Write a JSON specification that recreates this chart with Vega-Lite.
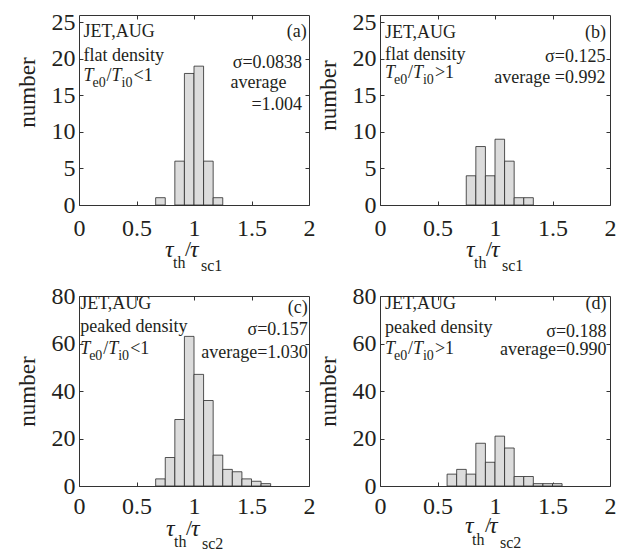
{
"$schema": "https://vega.github.io/schema/vega-lite/v6.json",
"background": "white",
"padding": {"left": 15, "top": 9, "right": 5, "bottom": 5},
"datasets": {
"one": [{}],
"a": [{"lo":0.6667,"hi":0.75,"n":1},{"lo":0.8333,"hi":0.9167,"n":6},{"lo":0.9167,"hi":1,"n":18},{"lo":1,"hi":1.0833,"n":19},{"lo":1.0833,"hi":1.1667,"n":6},{"lo":1.1667,"hi":1.25,"n":1}],
"b": [{"lo":0.75,"hi":0.8333,"n":4},{"lo":0.8333,"hi":0.9167,"n":8},{"lo":0.9167,"hi":1,"n":4},{"lo":1,"hi":1.0833,"n":9},{"lo":1.0833,"hi":1.1667,"n":6},{"lo":1.1667,"hi":1.25,"n":1},{"lo":1.25,"hi":1.3333,"n":1}],
"c": [{"lo":0.6667,"hi":0.75,"n":3},{"lo":0.75,"hi":0.8333,"n":12},{"lo":0.8333,"hi":0.9167,"n":28},{"lo":0.9167,"hi":1,"n":63},{"lo":1,"hi":1.0833,"n":47},{"lo":1.0833,"hi":1.1667,"n":36},{"lo":1.1667,"hi":1.25,"n":13},{"lo":1.25,"hi":1.3333,"n":7},{"lo":1.3333,"hi":1.4167,"n":6},{"lo":1.4167,"hi":1.5,"n":3},{"lo":1.5,"hi":1.5833,"n":2},{"lo":1.5833,"hi":1.6667,"n":1}],
"d": [{"lo":0.5833,"hi":0.6667,"n":5},{"lo":0.6667,"hi":0.75,"n":7},{"lo":0.75,"hi":0.8333,"n":5},{"lo":0.8333,"hi":0.9167,"n":18},{"lo":0.9167,"hi":1,"n":10},{"lo":1,"hi":1.0833,"n":21},{"lo":1.0833,"hi":1.1667,"n":16},{"lo":1.1667,"hi":1.25,"n":4},{"lo":1.25,"hi":1.3333,"n":4},{"lo":1.3333,"hi":1.4167,"n":1},{"lo":1.4167,"hi":1.5,"n":1},{"lo":1.5,"hi":1.5833,"n":1}]
},
"config": {
"view": {"stroke": "#333", "strokeWidth": 1},
"axis": {"labelFont": "Liberation Serif", "labelFontSize": 24, "labelColor": "#231f20", "titleFont": "Liberation Serif", "titleFontSize": 23, "titleFontWeight": "normal", "titleColor": "#231f20", "domain": false, "grid": false, "ticks": true, "tickSize": -4, "tickColor": "#333", "labelFlush": false, "labelOverlap": false, "labelPadding": 8, "titlePadding": 12},
"axisBottom": {"labelPadding": 15},
"text": {"font": "Liberation Serif", "color": "#231f20"}
},
"vconcat": [
{"hconcat": [
{"width": 230, "height": 190,
"layer": [
{"data": {"name": "a"}, "mark": {"type": "bar", "fill": "#dcdcdc", "stroke": "#2a2a2a", "strokeWidth": 0.8},
"encoding": {
"x": {"field": "lo", "type": "quantitative", "scale": {"domain": [0, 2]}, "axis": {"orient": "bottom", "values": [0, 0.5, 1, 1.5, 2], "format": "~g", "title": null}},
"x2": {"field": "hi"},
"y": {"field": "n", "type": "quantitative", "scale": {"domain": [0, 25]}, "axis": {"orient": "left", "values": [0, 5, 10, 15, 20, 25], "title": "number", "titleY": 77}},
"y2": {"datum": 0}}},
{"data": {"name": "one"}, "mark": {"type": "point", "opacity": 0},
"encoding": {"x": {"datum": 0, "type": "quantitative", "axis": {"orient": "top", "values": [0.5, 1, 1.5], "labels": false, "title": null}},
"y": {"datum": 0, "type": "quantitative", "axis": {"orient": "right", "values": [5, 10, 15, 20], "labels": false, "title": null}}}},
{"data": {"name": "one"}, "mark": {"type": "text", "text": "JET,AUG", "align": "left", "baseline": "alphabetic", "fontSize": 18}, "encoding": {"x": {"datum": 0.04, "type": "quantitative", "axis": null}, "y": {"datum": 23, "type": "quantitative", "axis": null}}},
{"data": {"name": "one"}, "mark": {"type": "text", "text": "flat density", "align": "left", "baseline": "alphabetic", "fontSize": 18}, "encoding": {"x": {"datum": 0.04, "type": "quantitative", "axis": null}, "y": {"datum": 19.7, "type": "quantitative", "axis": null}}},
{"data": {"name": "one"}, "mark": {"type": "text", "text": "T", "fontStyle": "italic", "align": "left", "baseline": "alphabetic", "fontSize": 18}, "encoding": {"x": {"datum": 0.04, "type": "quantitative", "axis": null}, "y": {"datum": 17, "type": "quantitative", "axis": null}}},
{"data": {"name": "one"}, "mark": {"type": "text", "text": "e0", "align": "left", "baseline": "alphabetic", "fontSize": 14, "dx": 9, "dy": 6}, "encoding": {"x": {"datum": 0.04, "type": "quantitative", "axis": null}, "y": {"datum": 17, "type": "quantitative", "axis": null}}},
{"data": {"name": "one"}, "mark": {"type": "text", "text": "/", "align": "left", "baseline": "alphabetic", "fontSize": 18, "dx": 23}, "encoding": {"x": {"datum": 0.04, "type": "quantitative", "axis": null}, "y": {"datum": 17, "type": "quantitative", "axis": null}}},
{"data": {"name": "one"}, "mark": {"type": "text", "text": "T", "fontStyle": "italic", "align": "left", "baseline": "alphabetic", "fontSize": 18, "dx": 28}, "encoding": {"x": {"datum": 0.04, "type": "quantitative", "axis": null}, "y": {"datum": 17, "type": "quantitative", "axis": null}}},
{"data": {"name": "one"}, "mark": {"type": "text", "text": "i0", "align": "left", "baseline": "alphabetic", "fontSize": 14, "dx": 38, "dy": 6}, "encoding": {"x": {"datum": 0.04, "type": "quantitative", "axis": null}, "y": {"datum": 17, "type": "quantitative", "axis": null}}},
{"data": {"name": "one"}, "mark": {"type": "text", "text": "<1", "align": "left", "baseline": "alphabetic", "fontSize": 18, "dx": 50}, "encoding": {"x": {"datum": 0.04, "type": "quantitative", "axis": null}, "y": {"datum": 17, "type": "quantitative", "axis": null}}},
{"data": {"name": "one"}, "mark": {"type": "text", "text": "(a)", "align": "right", "baseline": "alphabetic", "fontSize": 18}, "encoding": {"x": {"datum": 1.98, "type": "quantitative", "axis": null}, "y": {"datum": 23, "type": "quantitative", "axis": null}}},
{"data": {"name": "one"}, "mark": {"type": "text", "text": "σ=0.0838", "align": "right", "baseline": "alphabetic", "fontSize": 18}, "encoding": {"x": {"datum": 1.94, "type": "quantitative", "axis": null}, "y": {"datum": 18.8, "type": "quantitative", "axis": null}}},
{"data": {"name": "one"}, "mark": {"type": "text", "text": "average", "align": "center", "baseline": "alphabetic", "fontSize": 18}, "encoding": {"x": {"datum": 1.56, "type": "quantitative", "axis": null}, "y": {"datum": 16.05, "type": "quantitative", "axis": null}}},
{"data": {"name": "one"}, "mark": {"type": "text", "text": "=1.004", "align": "right", "baseline": "alphabetic", "fontSize": 18}, "encoding": {"x": {"datum": 1.94, "type": "quantitative", "axis": null}, "y": {"datum": 13, "type": "quantitative", "axis": null}}},
{"data": {"name": "one"}, "mark": {"type": "text", "text": "τ", "fontStyle": "italic", "align": "left", "baseline": "alphabetic", "fontSize": 24, "dx": -29, "dy": 52}, "encoding": {"x": {"datum": 1, "type": "quantitative", "axis": null}, "y": {"datum": 0, "type": "quantitative", "axis": null}}},
{"data": {"name": "one"}, "mark": {"type": "text", "text": "th", "align": "left", "baseline": "alphabetic", "fontSize": 16, "dx": -21, "dy": 63}, "encoding": {"x": {"datum": 1, "type": "quantitative", "axis": null}, "y": {"datum": 0, "type": "quantitative", "axis": null}}},
{"data": {"name": "one"}, "mark": {"type": "text", "text": "/", "align": "left", "baseline": "alphabetic", "fontSize": 22, "dx": -9, "dy": 51}, "encoding": {"x": {"datum": 1, "type": "quantitative", "axis": null}, "y": {"datum": 0, "type": "quantitative", "axis": null}}},
{"data": {"name": "one"}, "mark": {"type": "text", "text": "τ", "fontStyle": "italic", "align": "left", "baseline": "alphabetic", "fontSize": 24, "dx": -4, "dy": 52}, "encoding": {"x": {"datum": 1, "type": "quantitative", "axis": null}, "y": {"datum": 0, "type": "quantitative", "axis": null}}},
{"data": {"name": "one"}, "mark": {"type": "text", "text": "sc1", "align": "left", "baseline": "alphabetic", "fontSize": 16, "dx": 7, "dy": 66}, "encoding": {"x": {"datum": 1, "type": "quantitative", "axis": null}, "y": {"datum": 0, "type": "quantitative", "axis": null}}}
],
"resolve": {"axis": {"x": "independent", "y": "independent"}}},
{"width": 230, "height": 190,
"layer": [
{"data": {"name": "b"}, "mark": {"type": "bar", "fill": "#dcdcdc", "stroke": "#2a2a2a", "strokeWidth": 0.8},
"encoding": {
"x": {"field": "lo", "type": "quantitative", "scale": {"domain": [0, 2]}, "axis": {"orient": "bottom", "values": [0, 0.5, 1, 1.5, 2], "format": "~g", "title": null}},
"x2": {"field": "hi"},
"y": {"field": "n", "type": "quantitative", "scale": {"domain": [0, 25]}, "axis": {"orient": "left", "values": [0, 5, 10, 15, 20, 25], "title": "number", "titleY": 80}},
"y2": {"datum": 0}}},
{"data": {"name": "one"}, "mark": {"type": "point", "opacity": 0},
"encoding": {"x": {"datum": 0, "type": "quantitative", "axis": {"orient": "top", "values": [0.5, 1, 1.5], "labels": false, "title": null}},
"y": {"datum": 0, "type": "quantitative", "axis": {"orient": "right", "values": [5, 10, 15, 20], "labels": false, "title": null}}}},
{"data": {"name": "one"}, "mark": {"type": "text", "text": "JET,AUG", "align": "left", "baseline": "alphabetic", "fontSize": 18}, "encoding": {"x": {"datum": 0.043, "type": "quantitative", "axis": null}, "y": {"datum": 22.9, "type": "quantitative", "axis": null}}},
{"data": {"name": "one"}, "mark": {"type": "text", "text": "flat density", "align": "left", "baseline": "alphabetic", "fontSize": 18}, "encoding": {"x": {"datum": 0.043, "type": "quantitative", "axis": null}, "y": {"datum": 19.9, "type": "quantitative", "axis": null}}},
{"data": {"name": "one"}, "mark": {"type": "text", "text": "T", "fontStyle": "italic", "align": "left", "baseline": "alphabetic", "fontSize": 18}, "encoding": {"x": {"datum": 0.043, "type": "quantitative", "axis": null}, "y": {"datum": 17.4, "type": "quantitative", "axis": null}}},
{"data": {"name": "one"}, "mark": {"type": "text", "text": "e0", "align": "left", "baseline": "alphabetic", "fontSize": 14, "dx": 9, "dy": 6}, "encoding": {"x": {"datum": 0.043, "type": "quantitative", "axis": null}, "y": {"datum": 17.4, "type": "quantitative", "axis": null}}},
{"data": {"name": "one"}, "mark": {"type": "text", "text": "/", "align": "left", "baseline": "alphabetic", "fontSize": 18, "dx": 23}, "encoding": {"x": {"datum": 0.043, "type": "quantitative", "axis": null}, "y": {"datum": 17.4, "type": "quantitative", "axis": null}}},
{"data": {"name": "one"}, "mark": {"type": "text", "text": "T", "fontStyle": "italic", "align": "left", "baseline": "alphabetic", "fontSize": 18, "dx": 28}, "encoding": {"x": {"datum": 0.043, "type": "quantitative", "axis": null}, "y": {"datum": 17.4, "type": "quantitative", "axis": null}}},
{"data": {"name": "one"}, "mark": {"type": "text", "text": "i0", "align": "left", "baseline": "alphabetic", "fontSize": 14, "dx": 38, "dy": 6}, "encoding": {"x": {"datum": 0.043, "type": "quantitative", "axis": null}, "y": {"datum": 17.4, "type": "quantitative", "axis": null}}},
{"data": {"name": "one"}, "mark": {"type": "text", "text": ">1", "align": "left", "baseline": "alphabetic", "fontSize": 18, "dx": 50}, "encoding": {"x": {"datum": 0.043, "type": "quantitative", "axis": null}, "y": {"datum": 17.4, "type": "quantitative", "axis": null}}},
{"data": {"name": "one"}, "mark": {"type": "text", "text": "(b)", "align": "right", "baseline": "alphabetic", "fontSize": 18}, "encoding": {"x": {"datum": 1.965, "type": "quantitative", "axis": null}, "y": {"datum": 22.9, "type": "quantitative", "axis": null}}},
{"data": {"name": "one"}, "mark": {"type": "text", "text": "σ=0.125", "align": "right", "baseline": "alphabetic", "fontSize": 18}, "encoding": {"x": {"datum": 1.96, "type": "quantitative", "axis": null}, "y": {"datum": 19.6, "type": "quantitative", "axis": null}}},
{"data": {"name": "one"}, "mark": {"type": "text", "text": "average =0.992", "align": "right", "baseline": "alphabetic", "fontSize": 18}, "encoding": {"x": {"datum": 1.96, "type": "quantitative", "axis": null}, "y": {"datum": 16.7, "type": "quantitative", "axis": null}}},
{"data": {"name": "one"}, "mark": {"type": "text", "text": "τ", "fontStyle": "italic", "align": "left", "baseline": "alphabetic", "fontSize": 24, "dx": -29, "dy": 52}, "encoding": {"x": {"datum": 1, "type": "quantitative", "axis": null}, "y": {"datum": 0, "type": "quantitative", "axis": null}}},
{"data": {"name": "one"}, "mark": {"type": "text", "text": "th", "align": "left", "baseline": "alphabetic", "fontSize": 16, "dx": -21, "dy": 63}, "encoding": {"x": {"datum": 1, "type": "quantitative", "axis": null}, "y": {"datum": 0, "type": "quantitative", "axis": null}}},
{"data": {"name": "one"}, "mark": {"type": "text", "text": "/", "align": "left", "baseline": "alphabetic", "fontSize": 22, "dx": -9, "dy": 51}, "encoding": {"x": {"datum": 1, "type": "quantitative", "axis": null}, "y": {"datum": 0, "type": "quantitative", "axis": null}}},
{"data": {"name": "one"}, "mark": {"type": "text", "text": "τ", "fontStyle": "italic", "align": "left", "baseline": "alphabetic", "fontSize": 24, "dx": -4, "dy": 52}, "encoding": {"x": {"datum": 1, "type": "quantitative", "axis": null}, "y": {"datum": 0, "type": "quantitative", "axis": null}}},
{"data": {"name": "one"}, "mark": {"type": "text", "text": "sc1", "align": "left", "baseline": "alphabetic", "fontSize": 16, "dx": 7, "dy": 66}, "encoding": {"x": {"datum": 1, "type": "quantitative", "axis": null}, "y": {"datum": 0, "type": "quantitative", "axis": null}}}
],
"resolve": {"axis": {"x": "independent", "y": "independent"}}}
], "spacing": 0},
{"hconcat": [
{"width": 230, "height": 190,
"layer": [
{"data": {"name": "c"}, "mark": {"type": "bar", "fill": "#dcdcdc", "stroke": "#2a2a2a", "strokeWidth": 0.8},
"encoding": {
"x": {"field": "lo", "type": "quantitative", "scale": {"domain": [0, 2]}, "axis": {"orient": "bottom", "values": [0, 0.5, 1, 1.5, 2], "format": "~g", "title": null, "labelPadding": 12}},
"x2": {"field": "hi"},
"y": {"field": "n", "type": "quantitative", "scale": {"domain": [0, 80]}, "axis": {"orient": "left", "values": [0, 20, 40, 60, 80], "title": "number"}},
"y2": {"datum": 0}}},
{"data": {"name": "one"}, "mark": {"type": "point", "opacity": 0},
"encoding": {"x": {"datum": 0, "type": "quantitative", "axis": {"orient": "top", "values": [0.5, 1, 1.5], "labels": false, "title": null}},
"y": {"datum": 0, "type": "quantitative", "axis": {"orient": "right", "values": [20, 40, 60], "labels": false, "title": null}}}},
{"data": {"name": "one"}, "mark": {"type": "text", "text": "JET,AUG", "align": "left", "baseline": "alphabetic", "fontSize": 18}, "encoding": {"x": {"datum": 0.01, "type": "quantitative", "axis": null}, "y": {"datum": 74.6, "type": "quantitative", "axis": null}}},
{"data": {"name": "one"}, "mark": {"type": "text", "text": "peaked density", "align": "left", "baseline": "alphabetic", "fontSize": 18}, "encoding": {"x": {"datum": 0.01, "type": "quantitative", "axis": null}, "y": {"datum": 64.8, "type": "quantitative", "axis": null}}},
{"data": {"name": "one"}, "mark": {"type": "text", "text": "T", "fontStyle": "italic", "align": "left", "baseline": "alphabetic", "fontSize": 18}, "encoding": {"x": {"datum": 0.01, "type": "quantitative", "axis": null}, "y": {"datum": 55.6, "type": "quantitative", "axis": null}}},
{"data": {"name": "one"}, "mark": {"type": "text", "text": "e0", "align": "left", "baseline": "alphabetic", "fontSize": 14, "dx": 9, "dy": 6}, "encoding": {"x": {"datum": 0.01, "type": "quantitative", "axis": null}, "y": {"datum": 55.6, "type": "quantitative", "axis": null}}},
{"data": {"name": "one"}, "mark": {"type": "text", "text": "/", "align": "left", "baseline": "alphabetic", "fontSize": 18, "dx": 23}, "encoding": {"x": {"datum": 0.01, "type": "quantitative", "axis": null}, "y": {"datum": 55.6, "type": "quantitative", "axis": null}}},
{"data": {"name": "one"}, "mark": {"type": "text", "text": "T", "fontStyle": "italic", "align": "left", "baseline": "alphabetic", "fontSize": 18, "dx": 28}, "encoding": {"x": {"datum": 0.01, "type": "quantitative", "axis": null}, "y": {"datum": 55.6, "type": "quantitative", "axis": null}}},
{"data": {"name": "one"}, "mark": {"type": "text", "text": "i0", "align": "left", "baseline": "alphabetic", "fontSize": 14, "dx": 38, "dy": 6}, "encoding": {"x": {"datum": 0.01, "type": "quantitative", "axis": null}, "y": {"datum": 55.6, "type": "quantitative", "axis": null}}},
{"data": {"name": "one"}, "mark": {"type": "text", "text": "<1", "align": "left", "baseline": "alphabetic", "fontSize": 18, "dx": 50}, "encoding": {"x": {"datum": 0.01, "type": "quantitative", "axis": null}, "y": {"datum": 55.6, "type": "quantitative", "axis": null}}},
{"data": {"name": "one"}, "mark": {"type": "text", "text": "(c)", "align": "right", "baseline": "alphabetic", "fontSize": 18}, "encoding": {"x": {"datum": 1.99, "type": "quantitative", "axis": null}, "y": {"datum": 72.8, "type": "quantitative", "axis": null}}},
{"data": {"name": "one"}, "mark": {"type": "text", "text": "σ=0.157", "align": "right", "baseline": "alphabetic", "fontSize": 18}, "encoding": {"x": {"datum": 1.99, "type": "quantitative", "axis": null}, "y": {"datum": 63.4, "type": "quantitative", "axis": null}}},
{"data": {"name": "one"}, "mark": {"type": "text", "text": "average=1.030", "align": "right", "baseline": "alphabetic", "fontSize": 18}, "encoding": {"x": {"datum": 1.99, "type": "quantitative", "axis": null}, "y": {"datum": 53.9, "type": "quantitative", "axis": null}}},
{"data": {"name": "one"}, "mark": {"type": "text", "text": "τ", "fontStyle": "italic", "align": "left", "baseline": "alphabetic", "fontSize": 24, "dx": -28, "dy": 50}, "encoding": {"x": {"datum": 1, "type": "quantitative", "axis": null}, "y": {"datum": 0, "type": "quantitative", "axis": null}}},
{"data": {"name": "one"}, "mark": {"type": "text", "text": "th", "align": "left", "baseline": "alphabetic", "fontSize": 16, "dx": -20, "dy": 61}, "encoding": {"x": {"datum": 1, "type": "quantitative", "axis": null}, "y": {"datum": 0, "type": "quantitative", "axis": null}}},
{"data": {"name": "one"}, "mark": {"type": "text", "text": "/", "align": "left", "baseline": "alphabetic", "fontSize": 22, "dx": -8, "dy": 49}, "encoding": {"x": {"datum": 1, "type": "quantitative", "axis": null}, "y": {"datum": 0, "type": "quantitative", "axis": null}}},
{"data": {"name": "one"}, "mark": {"type": "text", "text": "τ", "fontStyle": "italic", "align": "left", "baseline": "alphabetic", "fontSize": 24, "dx": -3, "dy": 50}, "encoding": {"x": {"datum": 1, "type": "quantitative", "axis": null}, "y": {"datum": 0, "type": "quantitative", "axis": null}}},
{"data": {"name": "one"}, "mark": {"type": "text", "text": "sc2", "align": "left", "baseline": "alphabetic", "fontSize": 16, "dx": 8, "dy": 63}, "encoding": {"x": {"datum": 1, "type": "quantitative", "axis": null}, "y": {"datum": 0, "type": "quantitative", "axis": null}}}
],
"resolve": {"axis": {"x": "independent", "y": "independent"}}},
{"width": 230, "height": 190,
"layer": [
{"data": {"name": "d"}, "mark": {"type": "bar", "fill": "#dcdcdc", "stroke": "#2a2a2a", "strokeWidth": 0.8},
"encoding": {
"x": {"field": "lo", "type": "quantitative", "scale": {"domain": [0, 2]}, "axis": {"orient": "bottom", "values": [0, 0.5, 1, 1.5, 2], "format": "~g", "title": null, "labelPadding": 12}},
"x2": {"field": "hi"},
"y": {"field": "n", "type": "quantitative", "scale": {"domain": [0, 80]}, "axis": {"orient": "left", "values": [0, 20, 40, 60, 80], "title": "number"}},
"y2": {"datum": 0}}},
{"data": {"name": "one"}, "mark": {"type": "point", "opacity": 0},
"encoding": {"x": {"datum": 0, "type": "quantitative", "axis": {"orient": "top", "values": [0.5, 1, 1.5], "labels": false, "title": null}},
"y": {"datum": 0, "type": "quantitative", "axis": {"orient": "right", "values": [20, 40, 60], "labels": false, "title": null}}}},
{"data": {"name": "one"}, "mark": {"type": "text", "text": "JET,AUG", "align": "left", "baseline": "alphabetic", "fontSize": 18}, "encoding": {"x": {"datum": 0.043, "type": "quantitative", "axis": null}, "y": {"datum": 74.5, "type": "quantitative", "axis": null}}},
{"data": {"name": "one"}, "mark": {"type": "text", "text": "peaked density", "align": "left", "baseline": "alphabetic", "fontSize": 18}, "encoding": {"x": {"datum": 0.043, "type": "quantitative", "axis": null}, "y": {"datum": 64.3, "type": "quantitative", "axis": null}}},
{"data": {"name": "one"}, "mark": {"type": "text", "text": "T", "fontStyle": "italic", "align": "left", "baseline": "alphabetic", "fontSize": 18}, "encoding": {"x": {"datum": 0.043, "type": "quantitative", "axis": null}, "y": {"datum": 55.7, "type": "quantitative", "axis": null}}},
{"data": {"name": "one"}, "mark": {"type": "text", "text": "e0", "align": "left", "baseline": "alphabetic", "fontSize": 14, "dx": 9, "dy": 6}, "encoding": {"x": {"datum": 0.043, "type": "quantitative", "axis": null}, "y": {"datum": 55.7, "type": "quantitative", "axis": null}}},
{"data": {"name": "one"}, "mark": {"type": "text", "text": "/", "align": "left", "baseline": "alphabetic", "fontSize": 18, "dx": 23}, "encoding": {"x": {"datum": 0.043, "type": "quantitative", "axis": null}, "y": {"datum": 55.7, "type": "quantitative", "axis": null}}},
{"data": {"name": "one"}, "mark": {"type": "text", "text": "T", "fontStyle": "italic", "align": "left", "baseline": "alphabetic", "fontSize": 18, "dx": 28}, "encoding": {"x": {"datum": 0.043, "type": "quantitative", "axis": null}, "y": {"datum": 55.7, "type": "quantitative", "axis": null}}},
{"data": {"name": "one"}, "mark": {"type": "text", "text": "i0", "align": "left", "baseline": "alphabetic", "fontSize": 14, "dx": 38, "dy": 6}, "encoding": {"x": {"datum": 0.043, "type": "quantitative", "axis": null}, "y": {"datum": 55.7, "type": "quantitative", "axis": null}}},
{"data": {"name": "one"}, "mark": {"type": "text", "text": ">1", "align": "left", "baseline": "alphabetic", "fontSize": 18, "dx": 50}, "encoding": {"x": {"datum": 0.043, "type": "quantitative", "axis": null}, "y": {"datum": 55.7, "type": "quantitative", "axis": null}}},
{"data": {"name": "one"}, "mark": {"type": "text", "text": "(d)", "align": "right", "baseline": "alphabetic", "fontSize": 18}, "encoding": {"x": {"datum": 1.97, "type": "quantitative", "axis": null}, "y": {"datum": 74.5, "type": "quantitative", "axis": null}}},
{"data": {"name": "one"}, "mark": {"type": "text", "text": "σ=0.188", "align": "right", "baseline": "alphabetic", "fontSize": 18}, "encoding": {"x": {"datum": 1.97, "type": "quantitative", "axis": null}, "y": {"datum": 62.6, "type": "quantitative", "axis": null}}},
{"data": {"name": "one"}, "mark": {"type": "text", "text": "average=0.990", "align": "right", "baseline": "alphabetic", "fontSize": 18}, "encoding": {"x": {"datum": 1.97, "type": "quantitative", "axis": null}, "y": {"datum": 55, "type": "quantitative", "axis": null}}},
{"data": {"name": "one"}, "mark": {"type": "text", "text": "τ", "fontStyle": "italic", "align": "left", "baseline": "alphabetic", "fontSize": 24, "dx": -30, "dy": 47}, "encoding": {"x": {"datum": 1, "type": "quantitative", "axis": null}, "y": {"datum": 0, "type": "quantitative", "axis": null}}},
{"data": {"name": "one"}, "mark": {"type": "text", "text": "th", "align": "left", "baseline": "alphabetic", "fontSize": 16, "dx": -23, "dy": 59}, "encoding": {"x": {"datum": 1, "type": "quantitative", "axis": null}, "y": {"datum": 0, "type": "quantitative", "axis": null}}},
{"data": {"name": "one"}, "mark": {"type": "text", "text": "/", "align": "left", "baseline": "alphabetic", "fontSize": 22, "dx": -10, "dy": 46}, "encoding": {"x": {"datum": 1, "type": "quantitative", "axis": null}, "y": {"datum": 0, "type": "quantitative", "axis": null}}},
{"data": {"name": "one"}, "mark": {"type": "text", "text": "τ", "fontStyle": "italic", "align": "left", "baseline": "alphabetic", "fontSize": 24, "dx": -6, "dy": 47}, "encoding": {"x": {"datum": 1, "type": "quantitative", "axis": null}, "y": {"datum": 0, "type": "quantitative", "axis": null}}},
{"data": {"name": "one"}, "mark": {"type": "text", "text": "sc2", "align": "left", "baseline": "alphabetic", "fontSize": 16, "dx": 5, "dy": 62}, "encoding": {"x": {"datum": 1, "type": "quantitative", "axis": null}, "y": {"datum": 0, "type": "quantitative", "axis": null}}}
],
"resolve": {"axis": {"x": "independent", "y": "independent"}}}
], "spacing": 0}
],
"spacing": 8
}
